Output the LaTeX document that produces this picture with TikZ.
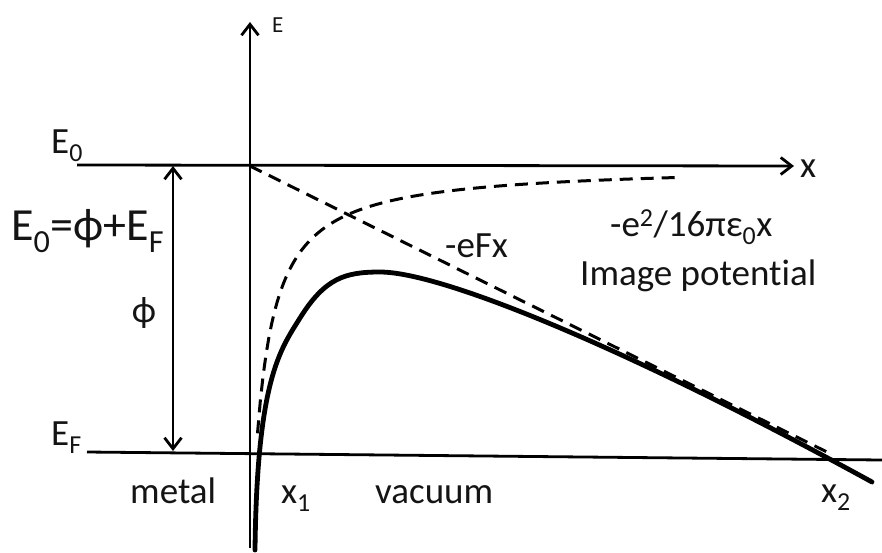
\documentclass[tikz,border=0pt]{standalone}
\usepackage{fontspec}
\setmainfont{Carlito}[Ligatures=NoCommon]
\usetikzlibrary{arrows.meta}
\begin{document}
\begin{tikzpicture}[x=1pt,y=-1pt,
  axis/.style={line width=2.8pt, draw=black},
  barb/.tip={Straight Barb[length=11pt,width=17pt,line width=2.8pt]},
  dsh/.style={line width=3pt, dash pattern=on 13pt off 8pt},
  curve/.style={line width=4.8pt, line cap=round, line join=round},
  lbl/.style={font=\fontsize{37}{40}\selectfont, inner sep=0pt, text=black!92, anchor=base west},
]
\useasboundingbox (0,0) rectangle (882,552);
% axes and levels
\coordinate (ybot) at (250,548);
\coordinate (ytop) at (250,22);
\coordinate (e0l) at (77,165);
\coordinate (e0r) at (794,166);
\coordinate (efl) at (87,452);
\coordinate (efr) at (882,460);
\coordinate (at) at (173,166);
\coordinate (ab) at (173,451);
\coordinate (o) at (250,166);
\coordinate (lend) at (831,454);
\draw[axis,-barb] (ybot) -- (ytop);
\draw[axis,-barb] (e0l) -- (e0r);
\draw[axis] (efl) -- (efr);
\draw[axis,barb-barb] (ab) -- (at);
% -eFx line
\draw[dsh] (o) -- (lend);
% image potential
\draw[dsh] plot[domain=257.5:680, samples=150] (\x, {165+5500/(\x-237)});
% total potential
\coordinate (c0) at (255,550);
\coordinate (c1) at (300,318);
\coordinate (c2) at (380,272);
\coordinate (c3) at (872,482);
\draw[curve] (c0) .. controls (257,380) and (280,350) .. (c1)
  .. controls (325,278) and (345,272) .. (c2)
  .. controls (440,272) and (622,345) .. (c3);
% labels
\node[lbl, font=\fontsize{23}{25}\selectfont] (lE) at (272,32) {E};
\node[lbl] (lE0) at (51,153) {E\textsubscript{0}};
\node[lbl, font=\fontsize{46}{50}\selectfont] (lEq) at (11,240) {E\textsubscript{0}=ϕ+E\textsubscript{F}};
\node[lbl, anchor=center] (lphi) at (144,313) {ϕ};
\node[lbl] (lEF) at (51,445) {E\textsubscript{F}};
\node[lbl] (lmetal) at (130,503) {metal};
\node[lbl] (lx1) at (281,503) {x\textsubscript{1}};
\node[lbl] (lvac) at (375,503) {vacuum};
\node[lbl] (lx2) at (821,502) {x\textsubscript{2}};
\node[lbl] (leFx) at (445,257) {-eFx};
\node[lbl] (limg) at (610,236) {-e\textsuperscript{2}/16πε\textsubscript{0}x};
\node[lbl] (limgp) at (580,285) {Image potential};
\node[lbl] (lx) at (800,177) {x};
\end{tikzpicture}
\end{document}
